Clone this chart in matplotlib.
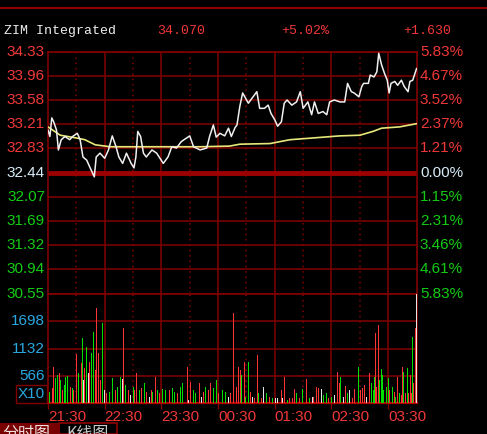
import matplotlib
matplotlib.use("Agg")
import matplotlib.pyplot as plt
from matplotlib.lines import Line2D
from matplotlib.patches import Rectangle

W, H = 487, 434
BG = "#000000"
GRID = "#820000"
RED = "#F03838"
GREEN = "#14CC14"
PALE = "#D8ECF8"
CYAN = "#2AA8E0"
BAR_C = {"r": "#FF3434", "g": "#00E000", "w": "#E4E4E4"}

# price axis labels (left) and percent labels (right)
price_ticks = [34.33, 33.96, 33.58, 33.21, 32.83, 32.44, 32.07, 31.69, 31.32, 30.94, 30.55]
pct_ticks = ["5.83%", "4.67%", "3.52%", "2.37%", "1.21%", "0.00%",
             "1.15%", "2.31%", "3.46%", "4.61%", "5.83%"]
prev_close = 32.44
vol_ticks = [566, 1132, 1698]
time_ticks = [0, 60, 120, 180, 240, 300, 360]
time_labels = ["21:30", "22:30", "23:30", "00:30", "01:30", "02:30", "03:30"]

# minutes since 21:30, last price
price_min = [0, 2, 4, 6, 9, 11, 14, 18, 23, 26,
             31, 34, 37, 41, 44, 49, 51, 55, 60, 64,
             68, 72, 75, 79, 83, 88, 91, 93, 95, 98,
             101, 104, 110, 115, 122, 127, 131, 136, 141, 150,
             154, 161, 168, 171, 175, 178, 182, 187, 191, 194,
             198, 200, 203, 206, 212, 217, 221, 224, 229, 233,
             236, 240, 243, 247, 250, 253, 258, 263, 267, 270,
             275, 279, 282, 286, 291, 295, 298, 303, 309, 314,
             317, 321, 324, 329, 332, 334, 339, 341, 345, 348,
             350, 353, 356, 359, 361, 363, 367, 370, 374, 377,
             381, 383, 386, 390]
price_val = [33.11, 33.01, 33.30, 33.24, 33.11, 32.80, 32.96, 33.01, 32.96, 33.01,
             33.06, 32.96, 32.69, 32.64, 32.54, 32.38, 32.69, 32.75, 32.67, 32.80,
             33.02, 32.85, 32.69, 32.59, 32.75, 32.59, 32.52, 32.69, 33.09, 33.01,
             32.75, 32.69, 32.80, 32.75, 32.59, 32.69, 32.85, 32.83, 32.93, 33.02,
             32.85, 32.80, 32.83, 33.01, 33.19, 33.00, 33.06, 33.02, 33.14, 33.01,
             33.15, 33.19, 33.48, 33.69, 33.53, 33.63, 33.71, 33.45, 33.45, 33.50,
             33.37, 33.27, 33.17, 33.24, 33.53, 33.58, 33.50, 33.55, 33.71, 33.45,
             33.55, 33.35, 33.55, 33.37, 33.40, 33.35, 33.55, 33.58, 33.55, 33.55,
             33.84, 33.71, 33.69, 33.63, 33.79, 33.84, 33.84, 33.97, 33.94, 34.02,
             34.31, 34.13, 34.00, 33.89, 33.69, 33.84, 33.87, 33.81, 33.89, 33.79,
             33.71, 33.87, 33.89, 34.07]

# average price line
avg_min = [0, 13, 29, 39, 50, 66, 108, 161, 192, 203, 235, 256, 274, 309, 330, 344, 353, 372, 390]
avg_val = [33.16, 33.03, 32.99, 32.96, 32.88, 32.85, 32.85, 32.85, 32.86, 32.89,
           32.90, 32.96, 32.98, 33.02, 33.03, 33.09, 33.14, 33.16, 33.21]

# volume bars (x10)
vol_min = [0, 2, 5, 6, 8, 10, 12, 13, 15, 17,
           19, 21, 24, 26, 27, 30, 32, 35, 37, 38,
           39, 41, 43, 44, 46, 48, 50, 51, 53, 54,
           56, 58, 60, 62, 65, 68, 71, 74, 77, 79,
           80, 82, 85, 87, 90, 92, 94, 97, 99, 102,
           104, 107, 110, 111, 114, 116, 118, 121, 124, 127,
           129, 132, 134, 137, 140, 142, 145, 148, 149, 151,
           154, 156, 160, 162, 165, 167, 170, 172, 175, 178,
           180, 182, 185, 188, 191, 193, 196, 199, 200, 202,
           204, 205, 208, 209, 212, 214, 216, 219, 222, 223,
           226, 228, 231, 234, 236, 238, 241, 243, 247, 248,
           250, 253, 256, 259, 261, 263, 266, 269, 272, 274,
           277, 280, 281, 284, 286, 289, 292, 295, 297, 300,
           303, 306, 308, 310, 313, 315, 317, 319, 322, 324,
           327, 329, 331, 333, 335, 337, 340, 342, 344, 346,
           347, 348, 350, 351, 353, 354, 355, 358, 360, 361,
           363, 365, 367, 368, 370, 372, 374, 375, 376, 378,
           380, 382, 384, 385, 386, 387, 389, 390]
vol_val = [2177, 242, 311, 759, 518, 587, 622, 483, 276, 380,
           552, 566, 345, 311, 276, 1022, 622, 829, 1347, 483,
           725, 1174, 622, 863, 1036, 1485, 691, 1969, 1036, 829,
           483, 1658, 276, 207, 242, 518, 276, 345, 552, 497,
           1555, 380, 276, 173, 345, 276, 622, 276, 311, 415,
           242, 138, 276, 242, 539, 276, 207, 290, 276, 138,
           276, 311, 242, 207, 345, 415, 345, 759, 69, 449,
           276, 207, 428, 138, 242, 345, 276, 415, 311, 483,
           207, 138, 276, 242, 138, 207, 1866, 345, 1795, 759,
           691, 587, 863, 138, 863, 242, 138, 104, 1001, 207,
           104, 345, 207, 138, 104, 104, 104, 104, 276, 104,
           552, 69, 104, 104, 290, 207, 104, 290, 138, 497,
           104, 138, 138, 345, 311, 290, 173, 207, 104, 138,
           173, 656, 415, 552, 138, 359, 207, 276, 104, 290,
           345, 759, 276, 311, 380, 138, 622, 415, 276, 552,
           1451, 345, 1623, 483, 705, 587, 276, 345, 518, 276,
           138, 345, 242, 138, 552, 207, 173, 759, 656, 207,
           725, 207, 587, 207, 1381, 415, 1555, 2280]
vol_col = ("wgrrggrgrg" "ggrgrrgrgw" "rgwrggrrrw" "rgwrggrggw" "rgrwgrrgrg"
           "rwrgrgrggw" "rggrggrrwr" "ggrwrgrrgg" "rwggwrrrrr" "rgrggrwrrg"
           "rwgrggwwrw" "rgrrrgrgwr" "gwrrrwggrg" "wrrgwrgwrr" "ggrrrwrggg"
           "rrrggggggr" "wgrgrgrrgr" "grrrgrrw")

plt.rcParams["font.family"] = ["Liberation Sans", "DejaVu Sans"]
fig = plt.figure(figsize=(W / 100, H / 100), dpi=100, facecolor=BG)


def px_axes(l, t, r, b):
    a = fig.add_axes([l / W, 1 - b / H, (r - l) / W, (b - t) / H])
    a.set_facecolor(BG)
    for sp in a.spines.values():
        sp.set_color(GRID)
        sp.set_linewidth(1.2)
    return a


ax = px_axes(48, 52, 417, 294)
axv = px_axes(48, 294, 417, 403.3)

span = price_ticks[0] - prev_close
for a in (ax, axv):
    a.set_xlim(0, 390.5)
    for m in range(60, 390, 60):
        a.axvline(m, color=GRID, lw=1.1, zorder=1)
    for m in range(30, 390, 60):
        a.axvline(m, color=GRID, lw=1.1, ls=(0, (1, 2.5)), zorder=1)

# price panel
ax.set_ylim(prev_close - span, prev_close + span)
for v in price_ticks:
    if v == prev_close:
        ax.axhline(v, color="#9C0000", lw=3.5, zorder=1)
    else:
        ax.axhline(v, color=GRID, lw=1.1, zorder=1)
ax.plot(avg_min, avg_val, color="#E8E87A", lw=1.2, zorder=3)
ax.plot(price_min, price_val, color="#F0F0F0", lw=1.1, zorder=4)
ax.set_xticks([])
ax.set_yticks([])

ytr = ax.get_yaxis_transform()
for v, pct in zip(price_ticks, pct_ticks):
    col = RED if v > prev_close else (PALE if v == prev_close else GREEN)
    ax.text(-0.008, v, f"{v:.2f}", transform=ytr, ha="right", va="center",
            color=col, fontsize=11)
    ax.text(1.008, v, pct, transform=ytr, ha="left", va="center",
            color=col, fontsize=11)

# volume panel
axv.set_ylim(0, vol_ticks[0] * 4)
for v in vol_ticks:
    axv.axhline(v, color=GRID, lw=1.1, zorder=1)
axv.bar(vol_min, vol_val, width=1.0, color=[BAR_C[c] for c in vol_col],
        linewidth=0, zorder=3)
axv.spines["bottom"].set_color("#B00000")
axv.spines["bottom"].set_linewidth(1.6)
axv.set_yticks([])
axv.set_xticks(time_ticks)
axv.set_xticklabels(time_labels, ha="left")
axv.tick_params(axis="x", length=4, width=1, color=GRID, labelcolor=RED,
                labelsize=11, pad=1)
vtr = axv.get_yaxis_transform()
for v in vol_ticks:
    axv.text(-0.008, v, str(v), transform=vtr, ha="right", va="center",
             color=CYAN, fontsize=11)
axv.text(-0.008, 190, "X10", transform=vtr, ha="right", va="center", color=CYAN,
         fontsize=11, bbox=dict(boxstyle="square,pad=0.12", fc=BG, ec=GRID, lw=1))

# header
fig.add_artist(Line2D([0, 1], [1 - 8 / H] * 2, color="#900000", lw=1.5))
hdr = dict(family=["Liberation Mono", "DejaVu Sans Mono"], fontsize=9.5, va="center")
fig.text(4 / W, 1 - 31 / H, "ZIM Integrated", color="#F0F0F0", **hdr)
fig.text(157 / W, 1 - 31 / H, "34.070", color=RED, **hdr)
fig.text(281 / W, 1 - 31 / H, "+5.02%", color=RED, **hdr)
fig.text(403 / W, 1 - 31 / H, "+1.630", color=RED, **hdr)

# bottom tabs (cut off by the window edge)
fig.add_artist(Rectangle((0, 0), 58 / W, 11 / H, transform=fig.transFigure,
                         fc="#780000", ec="none"))
fig.add_artist(Rectangle((59 / W, 0), 58 / W, 11 / H, transform=fig.transFigure,
                         fc=BG, ec="#900000", lw=1.2))
tab = dict(family=["Noto Sans CJK SC", "DejaVu Sans"], fontsize=11.5, va="top")
fig.text(2 / W, 1 - 425 / H, "分时图", color="#F0E0E0", **tab)
fig.text(66 / W, 1 - 425 / H, "K线图", color="#C8C8C8", **tab)

fig.savefig("out.png", dpi=100, facecolor=BG)
